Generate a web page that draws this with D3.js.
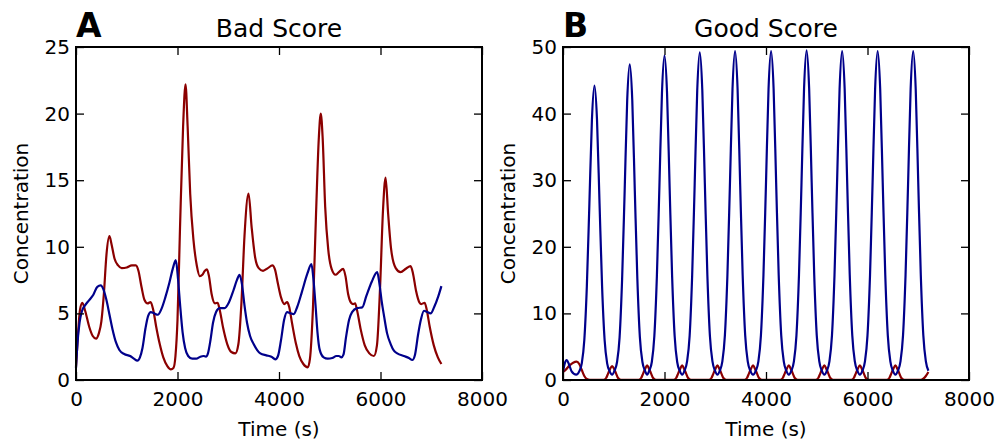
<!DOCTYPE html>
<html>
<head>
<meta charset="utf-8">
<script src="https://cdn.jsdelivr.net/npm/d3@7"></script>
<style>
  body { margin: 0; background: #fff; }
  text { font-family: "DejaVu Sans", sans-serif; fill: #000; }
  .tick line { stroke: #000; stroke-width: 1.3; }
  .tick text { font-size: 20px; }
  .domain { display: none; }
</style>
</head>
<body>
<script>
// tick labels
const timeTicks = [0, 2000, 4000, 6000, 8000];
const badTicks = [0, 5, 10, 15, 20, 25];
const goodTicks = [0, 10, 20, 30, 40, 50];

// panel A: bad score, [time (s), concentration]
const badRed = [
  [0, 1.0], [40, 3.5], [80, 5.3], [125, 5.8], [180, 5.2], [260, 4.0], [330, 3.3], [395, 3.1],
  [450, 3.5], [500, 4.4], [550, 6.5], [600, 9.4], [658, 10.8], [700, 10.2], [760, 9.1], [830, 8.6],
  [900, 8.4], [1000, 8.45], [1100, 8.6], [1180, 8.6], [1230, 8.2], [1290, 7.0], [1350, 6.0],
  [1410, 5.75], [1470, 5.85], [1520, 5.3], [1580, 4.0], [1650, 2.7], [1720, 1.7], [1800, 1.05],
  [1870, 0.8], [1920, 0.9], [1960, 1.8], [2000, 4.5], [2050, 11.5], [2110, 19.0], [2158, 22.2],
  [2200, 19.0], [2250, 14.0], [2315, 10.5], [2380, 8.6], [2440, 7.8], [2490, 7.9], [2540, 8.2],
  [2580, 8.3], [2620, 7.8], [2670, 6.5], [2740, 5.75], [2790, 5.8], [2830, 5.3], [2900, 3.9],
  [2980, 2.7], [3060, 2.1], [3140, 2.0], [3200, 2.7], [3260, 5.8], [3320, 10.8], [3400, 14.0],
  [3460, 11.5], [3530, 9.2], [3600, 8.4], [3685, 8.2], [3780, 8.4], [3870, 8.6], [3920, 8.3],
  [3980, 7.2], [4040, 6.2], [4106, 5.7], [4160, 5.85], [4200, 5.5], [4260, 4.2], [4330, 2.8],
  [4400, 1.8], [4480, 1.2], [4567, 0.95], [4610, 1.6], [4670, 5.5], [4730, 12.5], [4785, 18.2],
  [4823, 20.0], [4860, 18.2], [4910, 13.0], [4970, 9.8], [5040, 8.3], [5113, 7.9], [5180, 8.1],
  [5264, 8.35], [5310, 7.8], [5360, 6.5], [5420, 5.8], [5461, 5.7], [5500, 5.75], [5540, 5.2],
  [5610, 3.8], [5690, 2.6], [5780, 2.0], [5870, 1.8], [5930, 2.6], [5990, 6.8], [6050, 12.8],
  [6100, 15.2], [6150, 12.5], [6210, 9.8], [6300, 8.4], [6396, 8.1], [6500, 8.35], [6593, 8.55],
  [6640, 8.0], [6700, 6.7], [6770, 5.8], [6804, 5.7], [6870, 5.8], [6910, 5.3], [6970, 4.0],
  [7050, 2.6], [7130, 1.7], [7200, 1.2]
];
const badBlue = [
  [0, 0.9], [30, 2.8], [70, 4.3], [120, 5.2], [178, 5.6], [260, 6.0], [342, 6.4], [420, 7.0],
  [487, 7.1], [540, 6.8], [600, 6.0], [660, 4.9], [720, 3.8], [790, 2.8], [855, 2.25], [950, 1.95],
  [1066, 1.8], [1140, 1.6], [1210, 1.45], [1260, 1.7], [1310, 2.4], [1370, 3.9], [1420, 4.8],
  [1474, 5.1], [1540, 5.0], [1612, 4.9], [1680, 5.3], [1760, 6.2], [1840, 7.3], [1910, 8.4],
  [1967, 9.0], [2010, 7.6], [2050, 5.7], [2100, 3.6], [2150, 2.4], [2210, 1.8], [2290, 1.6],
  [2369, 1.6], [2450, 1.75], [2514, 1.8], [2560, 1.75], [2600, 2.0], [2650, 3.0], [2700, 4.3],
  [2760, 5.1], [2830, 5.4], [2930, 5.4], [3010, 5.8], [3100, 6.7], [3170, 7.5], [3224, 7.9],
  [3270, 7.2], [3320, 5.6], [3370, 4.3], [3430, 3.3], [3500, 2.7], [3570, 2.25], [3632, 2.0],
  [3750, 1.85], [3850, 1.75], [3928, 1.55], [3980, 1.8], [4040, 3.0], [4100, 4.5], [4159, 5.1],
  [4230, 5.0], [4290, 4.95], [4360, 5.5], [4450, 6.6], [4560, 8.0], [4639, 8.7], [4680, 7.5],
  [4720, 5.6], [4760, 3.5], [4800, 2.3], [4880, 1.7], [4960, 1.6], [5050, 1.65], [5130, 1.8],
  [5178, 1.8], [5230, 1.7], [5270, 1.9], [5320, 3.2], [5380, 4.5], [5440, 5.1], [5540, 5.4],
  [5640, 5.45], [5720, 6.3], [5830, 7.4], [5935, 8.1], [5980, 7.2], [6020, 6.0], [6070, 4.8],
  [6130, 3.5], [6200, 2.7], [6264, 2.2], [6330, 2.0], [6462, 1.8], [6560, 1.65], [6626, 1.5],
  [6680, 1.9], [6740, 3.4], [6800, 4.6], [6857, 5.2], [6920, 5.1], [6988, 5.0], [7060, 5.5],
  [7140, 6.3], [7200, 7.05]
];

// panel B: good score
const goodBlue = [
  [0, 1.2], [35, 2.5], [73, 3.0], [115, 2.4], [170, 1.3], [260, 0.8], [320, 1.3], [370, 2.5],
  [420, 6.0], [470, 14.1], [520, 26.5], [570, 39.1], [620, 44.2], [670, 39.1], [720, 26.5],
  [770, 14.1], [820, 6.0], [870, 2.5], [920, 1.3], [968, 0.8],
  [1015, 1.4], [1065, 2.7], [1115, 6.4], [1165, 15.2], [1215, 28.4], [1265, 42.0], [1315, 47.4],
  [1365, 42.0], [1415, 28.4], [1465, 15.2], [1515, 6.4], [1565, 2.7], [1615, 1.4], [1658, 0.8],
  [1700, 1.4], [1750, 2.7], [1800, 6.6], [1850, 15.6], [1900, 29.2], [1950, 43.1], [2000, 48.7],
  [2050, 43.1], [2100, 29.2], [2150, 15.6], [2200, 6.6], [2250, 2.7], [2300, 1.4], [2348, 0.8],
  [2395, 1.4], [2445, 2.8], [2495, 6.6], [2545, 15.7], [2595, 29.5], [2645, 43.5], [2695, 49.2],
  [2745, 43.5], [2795, 29.5], [2845, 15.7], [2895, 6.6], [2945, 2.8], [2995, 1.4], [3043, 0.8],
  [3090, 1.4], [3140, 2.8], [3190, 6.7], [3240, 15.8], [3290, 29.6], [3340, 43.7], [3390, 49.4],
  [3440, 43.7], [3490, 29.6], [3540, 15.8], [3590, 6.7], [3640, 2.8], [3690, 1.4], [3745, 0.8],
  [3800, 1.4], [3850, 2.8], [3900, 6.7], [3950, 15.8], [4000, 29.6], [4050, 43.7], [4100, 49.4],
  [4150, 43.7], [4200, 29.6], [4250, 15.8], [4300, 6.7], [4350, 2.8], [4400, 1.4], [4450, 0.8],
  [4500, 1.4], [4550, 2.8], [4600, 6.7], [4650, 15.8], [4700, 29.7], [4750, 43.8], [4800, 49.5],
  [4850, 43.8], [4900, 29.7], [4950, 15.8], [5000, 6.7], [5050, 2.8], [5100, 1.4], [5150, 0.8],
  [5200, 1.4], [5250, 2.8], [5300, 6.7], [5350, 15.8], [5400, 29.6], [5450, 43.7], [5500, 49.4],
  [5550, 43.7], [5600, 29.6], [5650, 15.8], [5700, 6.7], [5750, 2.8], [5800, 1.4], [5850, 0.8],
  [5900, 1.4], [5950, 2.8], [6000, 6.7], [6050, 15.8], [6100, 29.6], [6150, 43.7], [6200, 49.4],
  [6250, 43.7], [6300, 29.6], [6350, 15.8], [6400, 6.7], [6450, 2.8], [6500, 1.4], [6550, 0.8],
  [6600, 1.4], [6650, 2.8], [6700, 6.7], [6750, 15.8], [6800, 29.6], [6850, 43.7], [6900, 49.4],
  [6950, 43.7], [7000, 29.6], [7050, 15.8], [7100, 6.7], [7150, 2.8], [7200, 1.4]
];
const goodRed = [
  [0, 1.2], [60, 1.6], [130, 2.2], [200, 2.6], [270, 2.75], [320, 2.4], [370, 1.5], [420, 0.6],
  [470, 0.15], [530, 0.02],
  [800, 0.02], [850, 0.3], [890, 1.0], [930, 1.7], [968, 2.1], [1005, 1.7], [1045, 1.0], [1085, 0.3], [1140, 0.02],
  [1490, 0.02], [1540, 0.3], [1580, 1.0], [1620, 1.7], [1658, 2.2], [1695, 1.7], [1735, 1.0], [1775, 0.3], [1830, 0.02],
  [2180, 0.02], [2230, 0.3], [2270, 1.0], [2310, 1.7], [2348, 2.2], [2385, 1.7], [2425, 1.0], [2465, 0.3], [2520, 0.02],
  [2875, 0.02], [2925, 0.3], [2965, 1.0], [3005, 1.7], [3043, 2.2], [3080, 1.7], [3120, 1.0], [3160, 0.3], [3215, 0.02],
  [3575, 0.02], [3625, 0.3], [3665, 1.0], [3705, 1.7], [3745, 2.2], [3782, 1.7], [3822, 1.0], [3862, 0.3], [3917, 0.02],
  [4280, 0.02], [4330, 0.3], [4370, 1.0], [4410, 1.7], [4450, 2.2], [4487, 1.7], [4527, 1.0], [4567, 0.3], [4622, 0.02],
  [4980, 0.02], [5030, 0.3], [5070, 1.0], [5110, 1.7], [5150, 2.2], [5187, 1.7], [5227, 1.0], [5267, 0.3], [5322, 0.02],
  [5680, 0.02], [5730, 0.3], [5770, 1.0], [5810, 1.7], [5850, 2.2], [5887, 1.7], [5927, 1.0], [5967, 0.3], [6022, 0.02],
  [6380, 0.02], [6430, 0.3], [6470, 1.0], [6510, 1.7], [6550, 2.2], [6587, 1.7], [6627, 1.0], [6667, 0.3], [6722, 0.02],
  [7050, 0.02], [7100, 0.2], [7150, 0.6], [7200, 1.2]
];

const red = "#8b0000";
const blue = "#00008b";

const svg = d3.select("body")
    .append("svg")
    .attr("width", 1001)
    .attr("height", 443);

// one panel: frame, inward ticks on all four sides, two lines
function panel(opts) {
    const { left, letter, title, yMax, yTicks, series } = opts;
    const top = 47, bottom = 380, width = 406;
    const h = bottom - top;

    const x = d3.scaleLinear().domain([0, 8000]).range([0, width]);
    const y = d3.scaleLinear().domain([0, yMax]).range([h, 0]);

    const g = svg.append("g")
        .attr("transform", "translate(" + left + "," + top + ")");

    const line = d3.line()
        .x(d => x(d[0]))
        .y(d => y(d[1]))
        .curve(d3.curveMonotoneX);

    series.forEach(s => {
        g.append("path")
            .datum(s.data)
            .attr("fill", "none")
            .attr("stroke", s.color)
            .attr("stroke-width", 2.2)
            .attr("stroke-linejoin", "round")
            .attr("d", line);
    });

    // bottom axis with labels
    g.append("g")
        .attr("transform", "translate(0," + h + ")")
        .call(d3.axisBottom(x).tickValues(timeTicks).tickSize(-8).tickPadding(12).tickFormat(d3.format("d")));
    // top axis, ticks only
    g.append("g")
        .call(d3.axisTop(x).tickValues(timeTicks).tickSize(-8).tickFormat(""));
    // left axis with labels
    g.append("g")
        .call(d3.axisLeft(y).tickValues(yTicks).tickSize(-8).tickPadding(6).tickFormat(d3.format("d")));
    // right axis, ticks only
    g.append("g")
        .attr("transform", "translate(" + width + ",0)")
        .call(d3.axisRight(y).tickValues(yTicks).tickSize(-8).tickFormat(""));

    // let the css font win over d3's defaults
    g.selectAll(".tick text").attr("font-family", null).attr("font-size", null);

    // frame
    g.append("rect")
        .attr("width", width)
        .attr("height", h)
        .attr("fill", "none")
        .attr("stroke", "#000")
        .attr("stroke-width", 2);

    // title and panel letter
    g.append("text")
        .attr("x", width / 2)
        .attr("y", -10.5)
        .attr("text-anchor", "middle")
        .style("font-size", "25px")
        .text(title);

    g.append("text")
        .attr("x", 0)
        .attr("y", -10)
        .style("font-size", "33px")
        .style("font-weight", "bold")
        .text(letter);

    // axis labels (x label sits low, just above the page edge)
    g.append("text")
        .attr("x", width / 2)
        .attr("y", h + 56)
        .attr("text-anchor", "middle")
        .style("font-size", "20px")
        .text("Time (s)");

    g.append("text")
        .attr("transform", "rotate(-90)")
        .attr("x", -h / 2)
        .attr("y", -48)
        .attr("text-anchor", "middle")
        .style("font-size", "20px")
        .text("Concentration");
}

panel({
    left: 76, letter: "A", title: "Bad Score", yMax: 25, yTicks: badTicks,
    series: [{ data: badRed, color: red }, { data: badBlue, color: blue }]
});

panel({
    left: 563, letter: "B", title: "Good Score", yMax: 50, yTicks: goodTicks,
    series: [{ data: goodRed, color: red }, { data: goodBlue, color: blue }]
});
</script>
</body>
</html>
